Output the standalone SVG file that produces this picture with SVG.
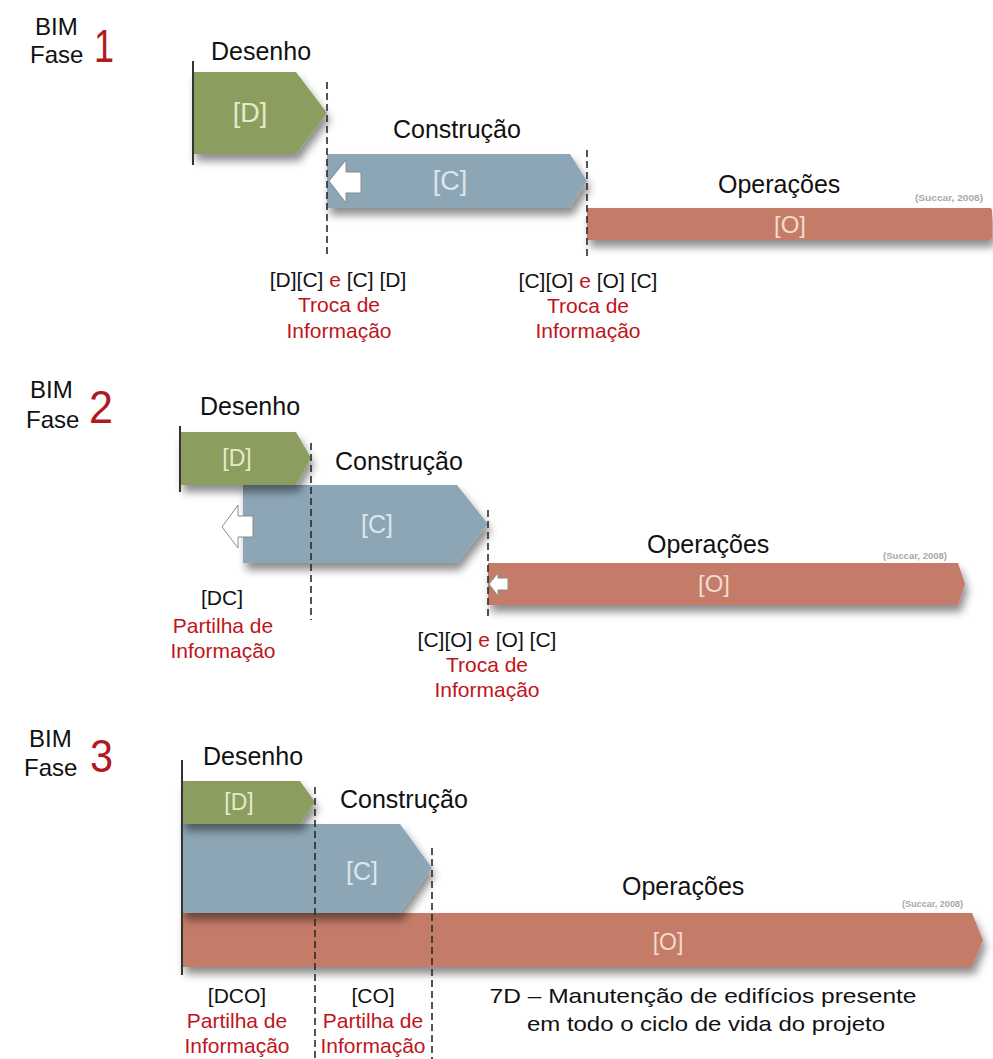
<svg xmlns="http://www.w3.org/2000/svg" width="993" height="1059" viewBox="0 0 993 1059">
<style>
text{font-family:"Liberation Sans",Arial,sans-serif}
.t{font-size:25px;fill:#111}
.bim{font-size:24px;fill:#111}
.num{font-size:47px;fill:#B0191E}
.lb{font-size:21px;fill:#111;text-anchor:middle}
.rd{fill:#C0141C}
.in{text-anchor:middle}
.ind{fill:#E4EBCB}
.inc{fill:#DCE6EC}
.ino{fill:#F4DACE}
.src{font-size:9px;fill:#A8A8A8;font-weight:bold}
.d{fill:#8B9E5E}
.c{fill:#8DA6B5}
.o{fill:#C47C68}
.dash{stroke:#2a2a2a;stroke-width:1.6;stroke-dasharray:7 4;fill:none}
.solid{stroke:#333;stroke-width:2;fill:none}
.arw{fill:#fff;stroke:#8a8a8a;stroke-width:1}
</style>
<defs>
<filter id="sh" x="-10%" y="-30%" width="125%" height="180%">
<feDropShadow dx="3" dy="7" stdDeviation="4" flood-color="#000" flood-opacity="0.45"/>
</filter>
</defs>
<rect width="993" height="1059" fill="#fff"/>

<!-- Phase 1 -->
<g id="phase1-title">
<text class="bim" x="35" y="35">BIM</text>
<text class="bim" x="30" y="63">Fase</text>
<text class="num" x="94" y="62" textLength="20" lengthAdjust="spacingAndGlyphs">1</text>
</g>
<g id="p1-operacoes">
<path class="o" filter="url(#sh)" d="M587,208 H990 Q992,208 992,211 V237 Q992,240 990,240 H587 Z"/>
<text class="in ino" x="790" y="233" font-size="24">[O]</text>
<text class="t" x="718" y="193">Operações</text>
<text class="src" x="915" y="201" textLength="68" lengthAdjust="spacingAndGlyphs">(Succar, 2008)</text>
</g>
<g id="p1-construcao">
<path class="c" filter="url(#sh)" d="M327,154 H570 L587,181 L570,208 H327 Z"/>
<path class="arw" d="M329,181 L346,160 V172 H361 V193 H346 V203 Z"/>
<text class="in inc" x="450" y="190" font-size="27">[C]</text>
<text class="t" x="393" y="138">Construção</text>
</g>
<g id="p1-desenho">
<path class="d" filter="url(#sh)" d="M193,72 H296 L327,113 L296,154 H193 Z"/>
<text class="in ind" x="250" y="122" font-size="27">[D]</text>
<text class="t" x="211" y="60">Desenho</text>
</g>
<g id="p1-labels">
<text class="lb" x="338" y="287">[D][C] <tspan class="rd">e</tspan> [C] [D]</text>
<text class="lb rd" x="339" y="312">Troca de</text>
<text class="lb rd" x="339" y="338">Informação</text>
<text class="lb" x="588" y="288">[C][O] <tspan class="rd">e</tspan> [O] [C]</text>
<text class="lb rd" x="588" y="313">Troca de</text>
<text class="lb rd" x="588" y="338">Informação</text>
</g>

<!-- Phase 2 -->
<g id="phase2-title">
<text class="bim" x="30" y="398">BIM</text>
<text class="bim" x="26" y="428">Fase</text>
<text class="num" x="89" y="423" font-size="46" textLength="24" lengthAdjust="spacingAndGlyphs">2</text>
</g>
<g id="p2-operacoes">
<path class="o" filter="url(#sh)" d="M488,563 H958 L965,584 L958,605 H488 Z"/>
<path class="arw" d="M489,584 L498,573 V578 H508 V590 H498 V596 Z"/>
<text class="in ino" x="714" y="592" font-size="24">[O]</text>
<text class="t" x="647" y="553" font-size="24">Operações</text>
<text class="src" x="883" y="559" textLength="64" lengthAdjust="spacingAndGlyphs">(Succar, 2008)</text>
</g>
<g id="p2-construcao">
<path class="c" filter="url(#sh)" d="M243,485 H457 L488,524 L457,563 H243 Z"/>
<path class="arw" d="M222,527 L238,505 V516 H253 V537 H238 V548 Z"/>
<text class="in inc" x="377" y="533" font-size="25">[C]</text>
<text class="t" x="335" y="470">Construção</text>
</g>
<g id="p2-desenho">
<path class="d" filter="url(#sh)" d="M180,432 H296 L311,458 L296,485 H180 Z"/>
<text class="in ind" x="237" y="466" font-size="23">[D]</text>
<text class="t" x="200" y="415" font-size="24">Desenho</text>
</g>
<g id="p2-labels">
<text class="lb" x="222" y="605">[DC]</text>
<text class="lb rd" x="223" y="633">Partilha de</text>
<text class="lb rd" x="223" y="658">Informação</text>
<text class="lb" x="487" y="647">[C][O] <tspan class="rd">e</tspan> [O] [C]</text>
<text class="lb rd" x="487" y="672">Troca de</text>
<text class="lb rd" x="487" y="697">Informação</text>
</g>

<!-- Phase 3 -->
<g id="phase3-title">
<text class="bim" x="29" y="747">BIM</text>
<text class="bim" x="24" y="776">Fase</text>
<text class="num" x="90" y="772" font-size="46" textLength="23" lengthAdjust="spacingAndGlyphs">3</text>
</g>
<g id="p3-operacoes">
<path class="o" filter="url(#sh)" d="M182,913 H972 L983,940 L972,967 H182 Z"/>
<text class="in ino" x="668" y="950" font-size="23">[O]</text>
<text class="t" x="622" y="895" font-size="24.5">Operações</text>
<text class="src" x="902" y="907" textLength="61" lengthAdjust="spacingAndGlyphs">(Succar, 2008)</text>
</g>
<g id="p3-construcao">
<path class="c" filter="url(#sh)" d="M182,824 H400 L432,868 L400,913 H182 Z"/>
<text class="in inc" x="362" y="880" font-size="25">[C]</text>
<text class="t" x="340" y="808">Construção</text>
</g>
<g id="p3-desenho">
<path class="d" filter="url(#sh)" d="M182,781 H300 L315,802 L300,824 H182 Z"/>
<text class="in ind" x="239" y="810" font-size="23">[D]</text>
<text class="t" x="203" y="765" font-size="24">Desenho</text>
</g>
<g id="p3-labels">
<text class="lb" x="237" y="1003">[DCO]</text>
<text class="lb rd" x="237" y="1028">Partilha de</text>
<text class="lb rd" x="237" y="1053">Informação</text>
<text class="lb" x="373" y="1003">[CO]</text>
<text class="lb rd" x="373" y="1028">Partilha de</text>
<text class="lb rd" x="373" y="1053">Informação</text>
<text class="lb" x="703" y="1003" font-size="23" textLength="427" lengthAdjust="spacingAndGlyphs">7D – Manutenção de edifícios presente</text>
<text class="lb" x="706" y="1031" font-size="23" textLength="358" lengthAdjust="spacingAndGlyphs">em todo o ciclo de vida do projeto</text>
</g>

<!-- connectors / guide lines -->
<g id="connectors">
<line class="solid" x1="193" y1="61" x2="193" y2="165"/>
<line class="dash" x1="327" y1="82" x2="327" y2="257"/>
<line class="dash" x1="587" y1="150" x2="587" y2="256"/>
<line class="solid" x1="180" y1="426" x2="180" y2="492"/>
<line class="dash" x1="311" y1="443" x2="311" y2="620"/>
<line class="dash" x1="488" y1="510" x2="488" y2="620"/>
<line class="solid" x1="182" y1="760" x2="182" y2="975"/>
<line class="dash" x1="315" y1="787" x2="315" y2="1059"/>
<line class="dash" x1="432" y1="848" x2="432" y2="1059"/>
</g>
</svg>
